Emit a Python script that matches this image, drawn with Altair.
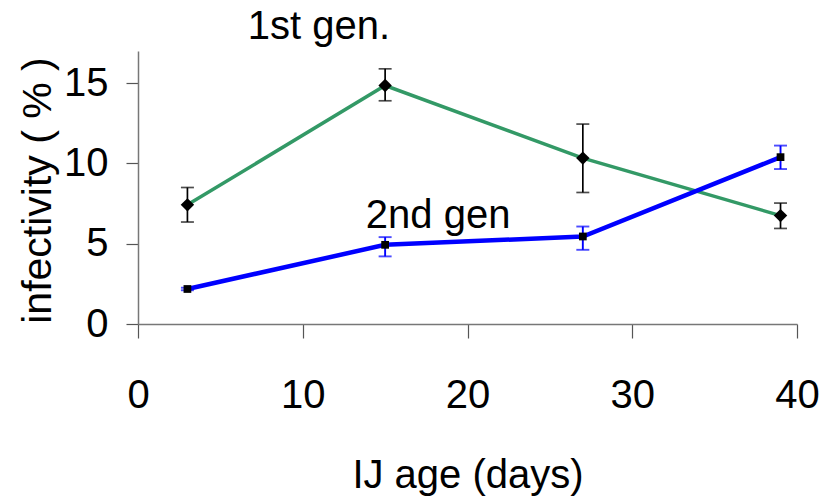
import altair as alt
import pandas as pd

# data
age = [3, 15, 27, 39]
gen1_mean = [7.42, 14.85, 10.33, 6.75]
gen1_lo = [6.35, 13.90, 8.19, 5.95]
gen1_hi = [8.50, 15.89, 12.45, 7.53]
gen2_mean = [2.18, 4.93, 5.45, 10.39]
gen2_lo = [2.10, 4.21, 4.62, 9.65]
gen2_hi = [2.26, 5.41, 6.07, 11.11]

labels_text = ["1st gen.", "2nd gen"]
labels_x = [6.66, 13.83]
labels_y = [17.75, 5.99]

d1 = pd.DataFrame({"age": age, "v": gen1_mean, "lo": gen1_lo, "hi": gen1_hi})
d2 = pd.DataFrame({"age": age, "v": gen2_mean, "lo": gen2_lo, "hi": gen2_hi})
dl = pd.DataFrame({"t": labels_text, "x": labels_x, "y": labels_y})

FONT = "Liberation Sans, Arial, sans-serif"
GREEN = "#339966"
BLUE = "#0000ff"

xs = alt.Scale(domain=[0, 40], nice=False, zero=True)
ys = alt.Scale(domain=[0, 17], nice=False, zero=True)

xax = alt.Axis(values=[0, 10, 20, 30, 40], grid=False, tickSize=14, labelPadding=37,
               labelFont=FONT, labelFontSize=40, labelColor="black", labelFontWeight="normal",
               domainColor="#777777", tickColor="#555555", domainWidth=1.5, tickWidth=1.2,
               title="IJ age (days)", titleFont=FONT, titleFontSize=40, titleFontWeight="normal",
               titleColor="black", titleBaseline="alphabetic", titleY=163, titleAnchor="middle",
               labelFlush=False, labelOverlap=False)
yax = alt.Axis(values=[0, 5, 10, 15], grid=False, tickSize=12, labelPadding=18,
               labelFont=FONT, labelFontSize=40, labelColor="black",
               domainColor="#777777", tickColor="#555555", domainWidth=1.5, tickWidth=1.2,
               title="infectivity ( % )", titleFont=FONT,
               titleFontSize=41, titleFontWeight="normal", titleColor="black",
               titleAngle=270, titleBaseline="alphabetic", titleX=-88, titleY=139,
               titleAlign="center", labelFlush=False, labelOverlap=False)

X = alt.X("age:Q", scale=xs, axis=xax)
Y = alt.Y("v:Q", scale=ys, axis=yax)

line1 = alt.Chart(d1).mark_line(color=GREEN, strokeWidth=3.5).encode(x=X, y=Y)
line2 = alt.Chart(d2).mark_line(color=BLUE, strokeWidth=4.5).encode(x="age:Q", y="v:Q")

def errs(df, color, width):
    base = alt.Chart(df)
    r = base.mark_rule(color=color, strokeWidth=width).encode(x="age:Q", y="lo:Q", y2="hi:Q")
    t1 = base.mark_tick(color=color, orient="horizontal", size=13, thickness=width).encode(x="age:Q", y="lo:Q")
    t2 = base.mark_tick(color=color, orient="horizontal", size=13, thickness=width).encode(x="age:Q", y="hi:Q")
    return r + t1 + t2

e1 = errs(d1, "black", 1.7)
e2 = errs(d2, BLUE, 1.9)

p1 = alt.Chart(d1).mark_point(shape="diamond", filled=True, color="black", size=180, opacity=1).encode(x="age:Q", y="v:Q")
p2 = alt.Chart(d2).mark_point(shape="square", filled=True, color="black", size=60, opacity=1).encode(x="age:Q", y="v:Q")

txt = alt.Chart(dl).mark_text(font=FONT, fontSize=40, align="left", baseline="alphabetic",
                              color="black", clip=False).encode(x="x:Q", y="y:Q", text="t:N")

chart = alt.layer(line1, e1, line2, e2, p1, p2, txt).properties(
    width=659, height=273,
    autosize=alt.AutoSizeParams(type="none"),
    padding={"left": 130, "top": 43, "right": 25, "bottom": 180},
).configure_view(stroke=None)

chart.save("out.html", embed_options={"renderer": "svg", "actions": False})
